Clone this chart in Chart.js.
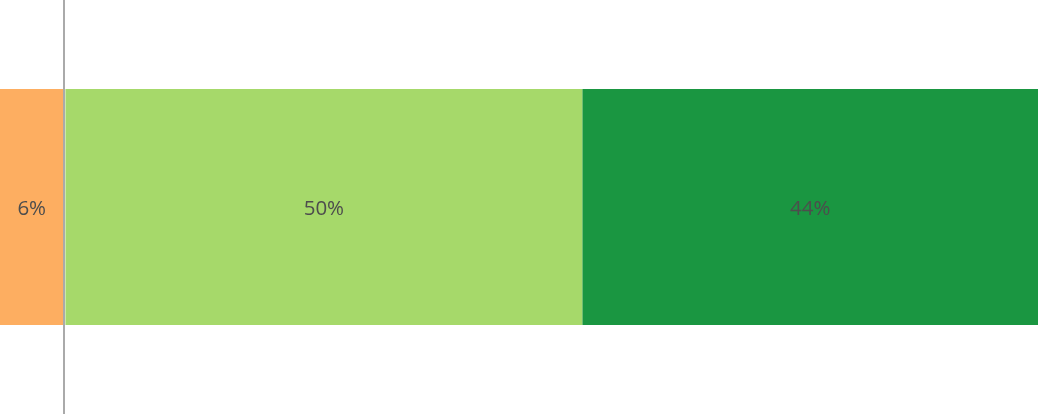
<!DOCTYPE html>
<html>
<head>
<meta charset="utf-8">
<style>
  html, body { margin: 0; padding: 0; background: #ffffff; }
  #wrap { width: 1038px; height: 415px; position: relative; }
</style>
<script src="https://cdn.jsdelivr.net/npm/chart.js@4/dist/chart.umd.min.js"></script>
</head>
<body>
<div id="wrap"><canvas id="c"></canvas></div>
<script>
const categories = [''];
const seriesNames = ['Negative', 'Positive', 'Very positive'];
const negativeValues = [-6.3];
const positiveValues = [50];
const veryPositiveValues = [44];
const seriesColors = ['#fdae61', '#a6d96a', '#1a9641'];

const labelPlugin = {
  id: 'segLabels',
  afterDatasetsDraw(chart) {
    const ctx = chart.ctx;
    ctx.save();
    ctx.font = '20.5px "Open Sans", sans-serif';
    ctx.fillStyle = '#4d4d4d';
    ctx.textAlign = 'center';
    ctx.textBaseline = 'middle';
    chart.data.datasets.forEach((ds, di) => {
      const meta = chart.getDatasetMeta(di);
      meta.data.forEach((bar, i) => {
        const left = Math.max(Math.min(bar.x, bar.base), 0);
        const right = Math.min(Math.max(bar.x, bar.base), chart.width);
        const txt = Math.round(Math.abs(ds.data[i])) + '%';
        ctx.fillText(txt, (left + right) / 2, bar.y + 2);
      });
    });
    ctx.restore();
  }
};

new Chart(document.getElementById('c'), {
  type: 'bar',
  data: {
    labels: categories,
    datasets: [
      { label: seriesNames[0], data: negativeValues, backgroundColor: seriesColors[0] },
      { label: seriesNames[1], data: positiveValues, backgroundColor: seriesColors[1] },
      { label: seriesNames[2], data: veryPositiveValues, backgroundColor: seriesColors[2] }
    ]
  },
  options: {
    indexAxis: 'y',
    responsive: true,
    maintainAspectRatio: false,
    animation: false,
    clip: false,
    layout: { padding: { left: 0, right: 0, top: 0, bottom: 1 } },
    datasets: { bar: { categoryPercentage: 1, barPercentage: 0.570, borderWidth: 0 } },
    plugins: { legend: { display: false }, tooltip: { enabled: false } },
    scales: {
      x: {
        stacked: true,
        min: -6.22,
        max: 94,
        afterFit(scale) { scale.height = 0; },
        ticks: { display: false },
        border: { display: false },
        grid: {
          drawTicks: false,
          z: 1,
          lineWidth: (c) => (c.tick && c.tick.value === 0 ? 2 : 0),
          color: (c) => (c.tick && c.tick.value === 0 ? '#aaaaaa' : 'rgba(0,0,0,0)')
        },
        afterBuildTicks(scale) { scale.ticks = [{ value: 0 }]; }
      },
      y: {
        stacked: true,
        display: false
      }
    }
  },
  plugins: [labelPlugin]
});
</script>
</body>
</html>
